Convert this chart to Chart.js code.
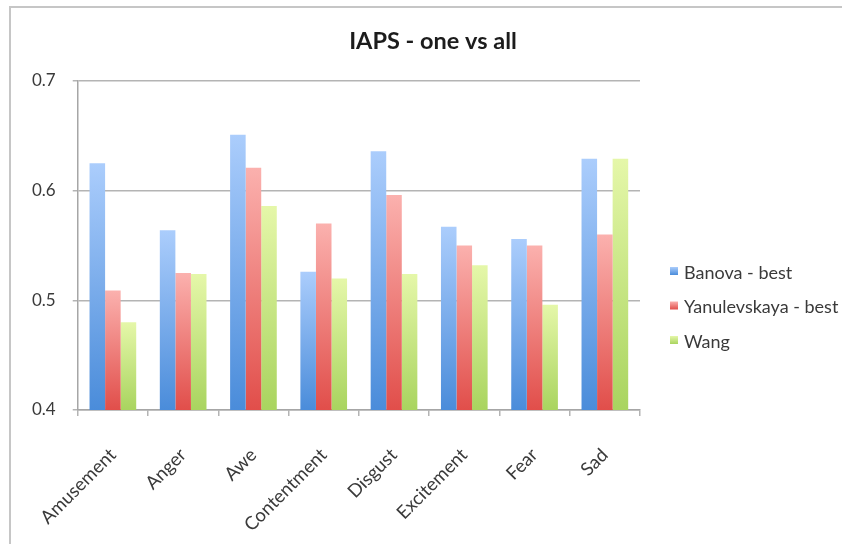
<!DOCTYPE html>
<html>
<head>
<meta charset="utf-8">
<script src="https://cdn.jsdelivr.net/npm/chart.js@4.4.1/dist/chart.umd.min.js"></script>
<style>
  html, body { margin: 0; padding: 0; background: #ffffff; }
  #wrap { width: 842px; height: 544px; position: relative; }
</style>
</head>
<body>
<div id="wrap"><canvas id="c" width="842" height="544"></canvas></div>
<script>
// Emotion categories and per-method scores
const chartTitle = 'IAPS - one vs all';
const categories = ['Amusement', 'Anger', 'Awe', 'Contentment', 'Disgust', 'Excitement', 'Fear', 'Sad'];
const seriesNames = ['Banova - best', 'Yanulevskaya - best', 'Wang'];
const banovaBest = [0.625, 0.564, 0.651, 0.526, 0.636, 0.567, 0.556, 0.629];
const yanulevskayaBest = [0.509, 0.525, 0.621, 0.570, 0.596, 0.550, 0.550, 0.560];
const wang = [0.480, 0.524, 0.586, 0.520, 0.524, 0.532, 0.496, 0.629];
const yTicks = [0.4, 0.5, 0.6, 0.7];

// light (top) and dark (bottom) shades for each series
const palette = [
  { top: '#abcdfc', bottom: '#4a8cda' },
  { top: '#fbb1ae', bottom: '#e14e4a' },
  { top: '#e5f7a9', bottom: '#a9d45f' }
];

const FONT = 'Lato, "Open Sans", "DejaVu Sans", sans-serif';
const TEXT = '#3a3a3a';
const GRID = '#b4b4b4';

// vertical gradient running from each bar's top down to the baseline
function barFill(shades) {
  return (ctx) => {
    const chart = ctx.chart;
    const area = chart.chartArea;
    if (!area || ctx.type !== 'data') return shades.bottom;
    const yTop = chart.scales.y.getPixelForValue(ctx.raw);
    const g = chart.ctx.createLinearGradient(0, yTop, 0, area.bottom);
    g.addColorStop(0, shades.top);
    g.addColorStop(1, shades.bottom);
    return g;
  };
}

// outer frame of the chart sheet
const framePlugin = {
  id: 'frame',
  beforeDraw(chart) {
    const c = chart.ctx;
    c.save();
    c.strokeStyle = '#c6c6c6';
    c.lineWidth = 2;
    c.beginPath();
    c.moveTo(10, chart.height);
    c.lineTo(10, 7);
    c.lineTo(chart.width, 7);
    c.stroke();
    c.restore();
  }
};

// heading, centred over the whole chart sheet
const headingPlugin = {
  id: 'heading',
  afterDraw(chart) {
    const c = chart.ctx;
    c.save();
    c.font = 'bold 23.5px ' + FONT;
    c.fillStyle = '#1c1c1c';
    c.textAlign = 'center';
    c.textBaseline = 'middle';
    c.fillText(chartTitle, 433, 41);
    c.restore();
  }
};

// legend column at the right of the plot
const sideLegend = {
  id: 'sideLegend',
  afterDraw(chart) {
    const c = chart.ctx;
    const x = chart.chartArea.right + 30;
    const y0 = 271;
    const step = 34.5;
    c.save();
    c.font = '18px ' + FONT;
    c.textBaseline = 'middle';
    c.textAlign = 'left';
    chart.data.datasets.forEach((ds, i) => {
      const y = y0 + i * step;
      const g = c.createLinearGradient(0, y - 4, 0, y + 4);
      g.addColorStop(0, palette[i].top);
      g.addColorStop(1, palette[i].bottom);
      c.fillStyle = g;
      c.fillRect(x, y - 4, 8, 8);
      c.fillStyle = TEXT;
      c.fillText(ds.label, x + 14, y + 2);
    });
    c.restore();
  }
};

const datasets = [banovaBest, yanulevskayaBest, wang].map((vals, i) => ({
  label: seriesNames[i],
  data: vals,
  backgroundColor: barFill(palette[i]),
  borderWidth: 0,
  barPercentage: 1.0,
  categoryPercentage: 0.664
}));

new Chart(document.getElementById('c'), {
  type: 'bar',
  data: { labels: categories, datasets },
  options: {
    responsive: false,
    animation: false,
    devicePixelRatio: 1,
    layout: { padding: { left: 15, right: 202, top: 81, bottom: 0 } },
    plugins: {
      legend: { display: false },
      tooltip: { enabled: false },
      title: { display: false }
    },
    scales: {
      x: {
        afterFit: (scale) => { scale.height = 134; },
        grid: { drawOnChartArea: false, drawTicks: true, tickLength: 6, color: GRID, lineWidth: 1.5 },
        border: { display: true, color: '#a6a6a6', width: 1.5 },
        ticks: {
          maxRotation: 45, minRotation: 45, padding: 28,
          color: TEXT, font: { family: FONT, size: 18.5 }
        }
      },
      y: {
        min: 0.4,
        max: 0.7,
        afterBuildTicks: (scale) => { scale.ticks = yTicks.map(v => ({ value: v })); },
        grid: { color: GRID, lineWidth: 1.5, tickLength: 5, drawTicks: true },
        border: { display: true, color: '#a6a6a6', width: 1.5 },
        ticks: {
          padding: 17,
          color: TEXT,
          font: { family: FONT, size: 17 },
          callback: (v) => Number(v).toFixed(1)
        }
      }
    }
  },
  plugins: [framePlugin, headingPlugin, sideLegend]
});
</script>
</body>
</html>
